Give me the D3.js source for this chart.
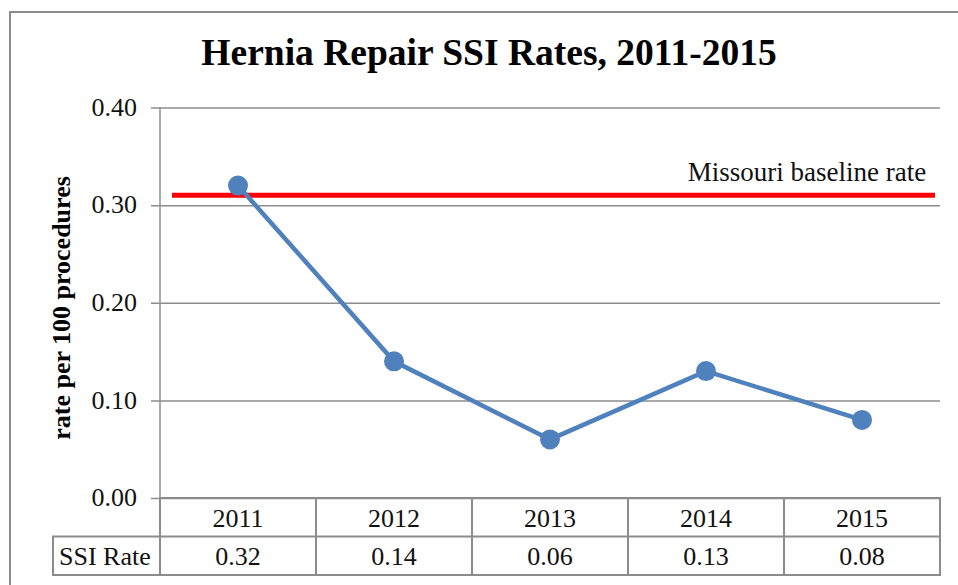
<!DOCTYPE html>
<html>
<head>
<meta charset="utf-8">
<script src="https://cdn.jsdelivr.net/npm/d3@7"></script>
<style>
  body { margin: 0; background: #fff; }
  svg { display: block; font-family: "Liberation Serif", "Times New Roman", serif; }
</style>
</head>
<body>
<script>
// chart data
const years = ["2011", "2012", "2013", "2014", "2015"];
const ssiRates = [0.32, 0.14, 0.06, 0.13, 0.08];
const baselineRate = 0.31;
const yTicks = [0, 0.1, 0.2, 0.3, 0.4];

const W = 958, H = 585;
const plot = { left: 160, right: 940, top: 107.5, bottom: 498 };
const rowH = 38.5;
const serif = "Liberation Serif, Times New Roman, serif";

const svg = d3.select("body").append("svg")
  .attr("width", W)
  .attr("height", H);

// outer frame (runs off the right and bottom)
svg.append("rect")
  .attr("x", 10).attr("y", 12)
  .attr("width", 1000).attr("height", 700)
  .attr("fill", "#fff")
  .attr("stroke", "#8c8c8c")
  .attr("stroke-width", 2);

svg.append("text")
  .attr("x", 489).attr("y", 65)
  .attr("text-anchor", "middle")
  .attr("font-size", 37.5)
  .attr("font-weight", "bold")
  .text("Hernia Repair SSI Rates, 2011-2015");

var x = d3.scaleBand().domain(years).range([plot.left, plot.right]);
var y = d3.scaleLinear().domain([0, 0.4]).range([plot.bottom, plot.top]);

// gridlines + y axis
var yAxis = svg.append("g")
  .attr("transform", `translate(${plot.left},0)`)
  .call(d3.axisLeft(y).tickValues(yTicks).tickFormat(d3.format(".2f"))
    .tickSize(-(plot.right - plot.left)).tickPadding(23));
yAxis.attr("font-family", serif);
yAxis.select(".domain").remove();
yAxis.selectAll(".tick line")
  .attr("stroke", "#8c8c8c")
  .attr("stroke-width", 1.5)
  .attr("x1", -9);
yAxis.selectAll(".tick text")
  .attr("font-size", 26)
  .attr("fill", "#111")
  .attr("dy", "0.3em");

svg.append("line")
  .attr("x1", plot.left).attr("x2", plot.left)
  .attr("y1", plot.top).attr("y2", plot.bottom + 2 * rowH)
  .attr("stroke", "#8c8c8c").attr("stroke-width", 1.5);

svg.append("text")
  .attr("transform", `translate(70,308) rotate(-90)`)
  .attr("text-anchor", "middle")
  .attr("font-size", 26)
  .attr("font-weight", "bold")
  .text("rate per 100 procedures");

// Missouri baseline
svg.append("line")
  .attr("x1", 172).attr("x2", 935)
  .attr("y1", y(baselineRate)).attr("y2", y(baselineRate))
  .attr("stroke", "#ff0000")
  .attr("stroke-width", 5);

svg.append("text")
  .attr("x", 807).attr("y", 181)
  .attr("text-anchor", "middle")
  .attr("font-size", 27)
  .attr("fill", "#111")
  .text("Missouri baseline rate");

// series
var line = d3.line()
  .x((d, i) => x(years[i]) + x.bandwidth() / 2)
  .y(d => y(d));

svg.append("path")
  .datum(ssiRates)
  .attr("d", line)
  .attr("fill", "none")
  .attr("stroke", "#4f81bd")
  .attr("stroke-width", 4.5);

svg.selectAll(".dot")
  .data(ssiRates)
  .enter()
  .append("circle")
  .attr("class", "dot")
  .attr("cx", (d, i) => x(years[i]) + x.bandwidth() / 2)
  .attr("cy", d => y(d))
  .attr("r", 10)
  .attr("fill", "#4f81bd");

// data table
var tbl = svg.append("g").attr("stroke", "#8c8c8c").attr("stroke-width", 2).attr("fill", "none");
tbl.append("rect")
  .attr("x", plot.left).attr("y", plot.bottom)
  .attr("width", plot.right - plot.left).attr("height", 2 * rowH);
tbl.append("rect")
  .attr("x", 53).attr("y", plot.bottom + rowH)
  .attr("width", plot.right - 53).attr("height", rowH);
tbl.selectAll(".col")
  .data(years.slice(1))
  .enter()
  .append("line")
  .attr("x1", d => x(d)).attr("x2", d => x(d))
  .attr("y1", plot.bottom).attr("y2", plot.bottom + 2 * rowH);

svg.selectAll(".yr")
  .data(years)
  .enter()
  .append("text")
  .attr("x", d => x(d) + x.bandwidth() / 2)
  .attr("y", plot.bottom + 29)
  .attr("text-anchor", "middle")
  .attr("font-size", 26)
  .attr("fill", "#111")
  .text(d => d);

svg.selectAll(".val")
  .data(ssiRates)
  .enter()
  .append("text")
  .attr("x", (d, i) => x(years[i]) + x.bandwidth() / 2)
  .attr("y", plot.bottom + rowH + 28)
  .attr("text-anchor", "middle")
  .attr("font-size", 26)
  .attr("fill", "#111")
  .text(d => d3.format(".2f")(d));

svg.append("text")
  .attr("x", 59).attr("y", plot.bottom + rowH + 28)
  .attr("font-size", 26)
  .attr("fill", "#111")
  .text("SSI Rate");
</script>
</body>
</html>
